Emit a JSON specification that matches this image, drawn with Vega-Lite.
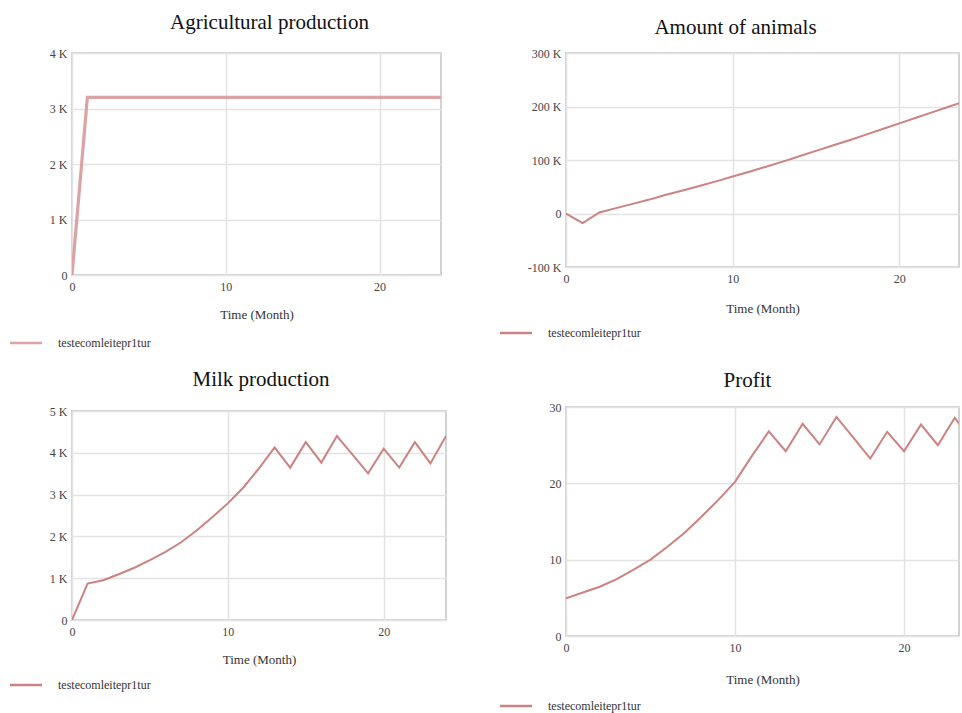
{
  "$schema": "https://vega.github.io/schema/vega-lite/v6.json",
  "background": "white",
  "padding": {"left": 18, "top": 11, "right": 0, "bottom": 0},
  "config": {
    "font": "Liberation Serif",
    "view": {"stroke": "#d2d2d2", "strokeWidth": 2},
    "axis": {"grid": true, "gridColor": "#e3e3e3", "gridWidth": 1.5, "domain": false, "ticks": false, "labelFlush": false, "labelFont": "Liberation Serif", "labelFontSize": 12, "labelColor": "#444", "titleFont": "Liberation Serif", "titleFontSize": 13, "titleFontWeight": "normal", "titleColor": "#333"},
    "axisX": {"labelPadding": 6, "titlePadding": 17},
    "axisY": {"labelPadding": 5},
    "title": {"font": "Liberation Serif", "fontSize": 21, "fontWeight": "normal", "color": "#111", "anchor": "middle", "baseline": "alphabetic", "offset": 14},
    "legend": {"orient": "none", "title": null, "padding": 0, "symbolType": "M-3,0H3", "symbolSize": 114, "symbolStrokeWidth": 2.5, "labelFont": "Liberation Serif", "labelFontSize": 12, "labelColor": "#333", "labelOffset": 25}
  },
  "datasets": {
    "agri": [
      {"t": 0, "v": 0}, {"t": 1, "v": 3200}, {"t": 2, "v": 3200}, {"t": 3, "v": 3200}, {"t": 4, "v": 3200}, {"t": 5, "v": 3200}, {"t": 6, "v": 3200}, {"t": 7, "v": 3200}, {"t": 8, "v": 3200}, {"t": 9, "v": 3200}, {"t": 10, "v": 3200}, {"t": 11, "v": 3200}, {"t": 12, "v": 3200}, {"t": 13, "v": 3200}, {"t": 14, "v": 3200}, {"t": 15, "v": 3200}, {"t": 16, "v": 3200}, {"t": 17, "v": 3200}, {"t": 18, "v": 3200}, {"t": 19, "v": 3200}, {"t": 20, "v": 3200}, {"t": 21, "v": 3200}, {"t": 22, "v": 3200}, {"t": 23, "v": 3200}, {"t": 24, "v": 3200}
    ],
    "animals": [
      {"t": 0, "v": 0}, {"t": 1, "v": -18000}, {"t": 2, "v": 2000}, {"t": 3, "v": 10000}, {"t": 4, "v": 18000}, {"t": 5, "v": 26000}, {"t": 6, "v": 35000}, {"t": 7, "v": 43000}, {"t": 8, "v": 51500}, {"t": 9, "v": 60000}, {"t": 10, "v": 69000}, {"t": 11, "v": 78000}, {"t": 12, "v": 87500}, {"t": 13, "v": 97000}, {"t": 14, "v": 107000}, {"t": 15, "v": 117000}, {"t": 16, "v": 127000}, {"t": 17, "v": 137000}, {"t": 18, "v": 147500}, {"t": 19, "v": 158000}, {"t": 20, "v": 168500}, {"t": 21, "v": 179000}, {"t": 22, "v": 189500}, {"t": 23, "v": 200000}, {"t": 24, "v": 210500}
    ],
    "milk": [
      {"t": 0, "v": 0}, {"t": 1, "v": 870}, {"t": 2, "v": 950}, {"t": 3, "v": 1095}, {"t": 4, "v": 1250}, {"t": 5, "v": 1430}, {"t": 6, "v": 1630}, {"t": 7, "v": 1860}, {"t": 8, "v": 2140}, {"t": 9, "v": 2460}, {"t": 10, "v": 2790}, {"t": 11, "v": 3170}, {"t": 12, "v": 3630}, {"t": 13, "v": 4130}, {"t": 14, "v": 3645}, {"t": 15, "v": 4255}, {"t": 16, "v": 3765}, {"t": 17, "v": 4400}, {"t": 18, "v": 3955}, {"t": 19, "v": 3510}, {"t": 20, "v": 4100}, {"t": 21, "v": 3645}, {"t": 22, "v": 4255}, {"t": 23, "v": 3745}, {"t": 24, "v": 4400}
    ],
    "profit": [
      {"t": 0, "v": 4.95}, {"t": 1, "v": 5.7}, {"t": 2, "v": 6.45}, {"t": 3, "v": 7.45}, {"t": 4, "v": 8.7}, {"t": 5, "v": 10.0}, {"t": 6, "v": 11.7}, {"t": 7, "v": 13.5}, {"t": 8, "v": 15.6}, {"t": 9, "v": 17.8}, {"t": 10, "v": 20.2}, {"t": 11, "v": 23.6}, {"t": 12, "v": 26.8}, {"t": 13, "v": 24.2}, {"t": 14, "v": 27.8}, {"t": 15, "v": 25.1}, {"t": 16, "v": 28.7}, {"t": 17, "v": 26.0}, {"t": 18, "v": 23.25}, {"t": 19, "v": 26.75}, {"t": 20, "v": 24.2}, {"t": 21, "v": 27.7}, {"t": 22, "v": 25.0}, {"t": 23, "v": 28.6}, {"t": 24, "v": 25.5}
    ]
  },
  "spacing": 61,
  "resolve": {"scale": {"color": "independent"}, "legend": {"color": "independent"}},
  "hconcat": [
    {
      "bounds": "flush",
      "spacing": 136,
      "resolve": {"scale": {"color": "independent"}, "legend": {"color": "independent"}},
      "vconcat": [
        {
          "title": {"text": "Agricultural production", "dx": 13, "offset": 14},
          "width": 369, "height": 222,
          "data": {"name": "agri"},
          "mark": {"type": "line", "strokeWidth": 3.2, "clip": true},
          "encoding": {
            "x": {"field": "t", "type": "quantitative", "scale": {"domain": [0, 24], "nice": false}, "axis": {"values": [0, 10, 20], "title": "Time (Month)", "titlePadding": 16}},
            "y": {"field": "v", "type": "quantitative", "scale": {"domain": [0, 4000], "nice": false}, "axis": {"values": [0, 1000, 2000, 3000, 4000], "title": null, "labelExpr": "datum.value == 0 ? '0' : (datum.value / 1000) + ' K'"}},
            "color": {"datum": "testecomleitepr1tur", "scale": {"range": ["#dba3a3"]}, "legend": {"legendX": -53, "legendY": 283}}
          }
        },
        {
          "title": {"text": "Milk production", "dx": 2, "offset": 15},
          "width": 374, "height": 209,
          "data": {"name": "milk"},
          "mark": {"type": "line", "strokeWidth": 2, "clip": true},
          "encoding": {
            "x": {"field": "t", "type": "quantitative", "scale": {"domain": [0, 24], "nice": false}, "axis": {"values": [0, 10, 20], "title": "Time (Month)", "titlePadding": 16}},
            "y": {"field": "v", "type": "quantitative", "scale": {"domain": [0, 5000], "nice": false}, "axis": {"values": [0, 1000, 2000, 3000, 4000, 5000], "title": null, "labelExpr": "datum.value == 0 ? '0' : (datum.value / 1000) + ' K'"}},
            "color": {"datum": "testecomleitepr1tur", "scale": {"range": ["#cd8282"]}, "legend": {"legendX": -53, "legendY": 267}}
          }
        }
      ]
    },
    {
      "bounds": "flush",
      "spacing": 140,
      "resolve": {"scale": {"color": "independent"}, "legend": {"color": "independent"}},
      "vconcat": [
        {
          "title": {"text": "Amount of animals", "dx": -27, "offset": 9},
          "width": 393, "height": 214,
          "data": {"name": "animals"},
          "mark": {"type": "line", "strokeWidth": 2, "clip": true},
          "encoding": {
            "x": {"field": "t", "type": "quantitative", "scale": {"domain": [0, 23.58], "nice": false}, "axis": {"values": [0, 10, 20], "title": "Time (Month)", "titlePadding": 18}},
            "y": {"field": "v", "type": "quantitative", "scale": {"domain": [-100000, 300000], "nice": false}, "axis": {"values": [-100000, 0, 100000, 200000, 300000], "title": null, "labelExpr": "datum.value == 0 ? '0' : (datum.value / 1000) + ' K'"}},
            "color": {"datum": "testecomleitepr1tur", "scale": {"range": ["#cd8282"]}, "legend": {"legendX": -57, "legendY": 273}}
          }
        },
        {
          "title": {"text": "Profit", "dx": -15, "offset": 10},
          "width": 393, "height": 229,
          "data": {"name": "profit"},
          "mark": {"type": "line", "strokeWidth": 2, "clip": true},
          "encoding": {
            "x": {"field": "t", "type": "quantitative", "scale": {"domain": [0, 23.25], "nice": false}, "axis": {"values": [0, 10, 20], "title": "Time (Month)", "titlePadding": 20}},
            "y": {"field": "v", "type": "quantitative", "scale": {"domain": [0, 30], "nice": false}, "axis": {"values": [0, 10, 20, 30], "title": null}},
            "color": {"datum": "testecomleitepr1tur", "scale": {"range": ["#cd8282"]}, "legend": {"legendX": -57, "legendY": 292}}
          }
        }
      ]
    }
  ]
}
